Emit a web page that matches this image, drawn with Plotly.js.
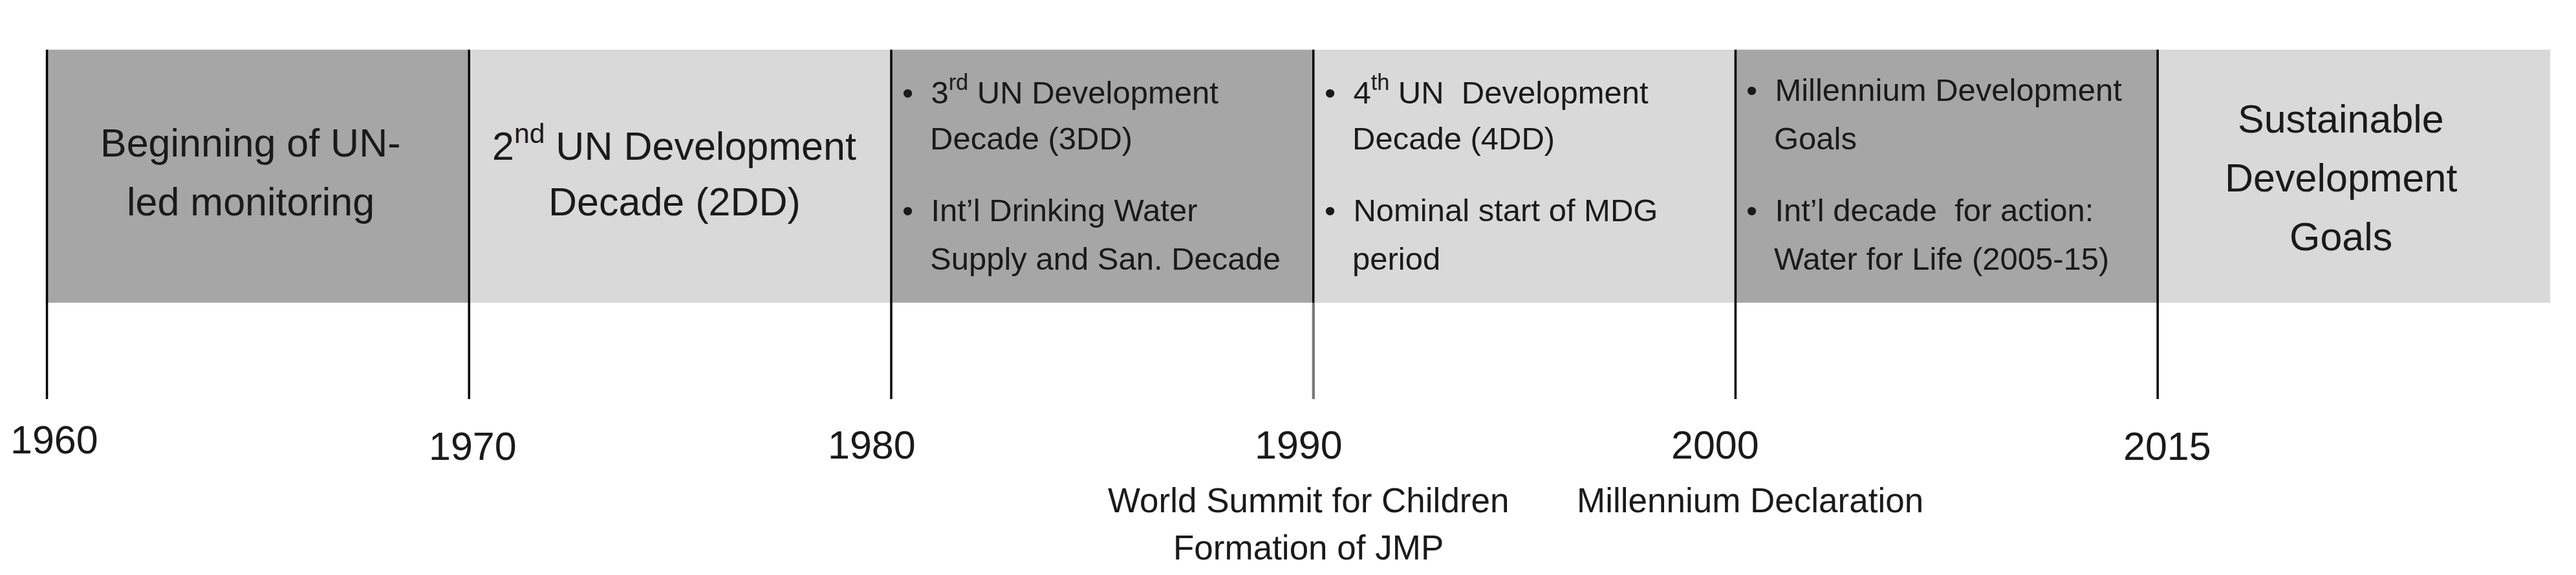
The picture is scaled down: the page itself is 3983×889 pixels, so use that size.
<!DOCTYPE html>
<html>
<head>
<meta charset="utf-8">
<script src="https://cdn.plot.ly/plotly-3.0.1.min.js"></script>
<style>html,body{margin:0;padding:0;background:#fff;}#chart{width:3983px;height:889px;}</style>
</head>
<body>
<div id="chart"></div>
<script>
// ---- data ----
const years = ['1960', '1970', '1980', '1990', '2000', '2015'];
const eraStart = [0, 1, 2, 3, 4, 5];
const eraEnd = [1, 2, 3, 4, 5, 5.93];
const eraShade = ['dark', 'light', 'dark', 'light', 'dark', 'light'];
const eraTitles = [
  ['Beginning of UN-', 'led monitoring'],
  ['2<sup>nd</sup> UN Development', 'Decade (2DD)'],
  null,
  null,
  null,
  ['Sustainable', 'Development', 'Goals']
];
const eraBullets = [
  null,
  null,
  [['3<sup>rd</sup> UN Development', 'Decade (3DD)'], ['Int’l Drinking Water', 'Supply and San. Decade']],
  [['4<sup>th</sup> UN  Development', 'Decade (4DD)'], ['Nominal start of MDG', 'period']],
  [['Millennium Development', 'Goals'], ['Int’l decade  for action:', 'Water for Life (2005-15)']],
  null
];
const eventAt = [3, 4];
const eventLines = [['World Summit for Children', 'Formation of JMP'], ['Millennium Declaration']];

// ---- style / layout ----
const W = 3983, H = 889;
const FONT = 'Liberation Sans, Arial, sans-serif';
const TXT = '#1a1a1a';
const shadeColor = {dark: '#a6a6a6', light: '#d9d9d9'};
const py = px => 1 - px / H;               // pixel row -> paper y
const lineBottom = -0.381;                  // in y units (bar spans 0..1)

const traces = [];
traces.push({
  type: 'bar', orientation: 'h',
  y: eraStart.map(() => 0.5),
  base: eraStart,
  x: eraStart.map((s, i) => eraEnd[i] - s),
  width: 1,
  marker: {color: eraShade.map(s => shadeColor[s]), line: {width: 0}},
  hoverinfo: 'skip', showlegend: false
});
const lx = [], ly = [];
eraStart.forEach(b => { lx.push(b, b, null); ly.push(lineBottom, 1, null); });
traces.push({type: 'scatter', mode: 'lines', x: lx, y: ly,
  line: {color: '#000', width: 3.5}, hoverinfo: 'skip', showlegend: false});
// the 1990 divider is grey below the bar
traces.push({type: 'scatter', mode: 'lines', x: [eraStart[3], eraStart[3]], y: [lineBottom, 0],
  line: {color: '#7a7a7a', width: 4}, hoverinfo: 'skip', showlegend: false});

const ann = [];
const A = (o) => ann.push(Object.assign({showarrow: false, xref: 'x', yref: 'paper',
  yanchor: 'middle', font: {family: FONT, color: TXT, size: 49}}, o));

// year labels
const yearShift = [11, 6, -30, -23, -31, 15];
const yearRow = [680, 690, 688, 688, 688, 690];
years.forEach((t, i) => A({x: eraStart[i], y: py(yearRow[i]), text: t, xanchor: 'center',
  xshift: yearShift[i], font: {family: FONT, color: TXT, size: 61}}));

// centred era titles
const titleRows = {2: [221, 312], 3: [184, 275, 366]};
const titleShift = [-11, -9, 0, 0, 0, -20];
eraTitles.forEach((lines, i) => {
  if (!lines) return;
  const rows = titleRows[lines.length];
  lines.forEach((t, k) => A({x: (eraStart[i] + eraEnd[i]) / 2, y: py(rows[k]), text: t,
    xanchor: 'center', xshift: titleShift[i], font: {family: FONT, color: TXT, size: 61}}));
});

// bulleted era notes (hanging indent: continuation lines line up after the bullet)
const bulletRows = [[139, 214], [325, 400]];
eraBullets.forEach((items, i) => {
  if (!items) return;
  items.forEach((lines, j) => {
    lines.forEach((t, k) => A({x: eraStart[i], y: py(bulletRows[j][k]),
      text: k === 0 ? '•  ' + t : t,
      xanchor: 'left', xshift: k === 0 ? 15 : 58}));
  });
});

// events below the axis
const eventShift = [-8, 23];
eventAt.forEach((x, i) => {
  eventLines[i].forEach((t, k) => A({x: x, y: py(773 + k * 73), text: t, xanchor: 'center',
    xshift: eventShift[i], font: {family: FONT, color: TXT, size: 53}}));
});

const layout = {
  width: W, height: H,
  margin: {l: 0, r: 0, t: 0, b: 0, pad: 0},
  paper_bgcolor: '#fff', plot_bgcolor: '#fff',
  barmode: 'overlay',
  showlegend: false,
  xaxis: {range: [-0.1112, 5.991], showgrid: false, zeroline: false, showline: false,
    showticklabels: false, ticks: '', fixedrange: true},
  yaxis: {range: [-1.076, 1.196], showgrid: false, zeroline: false, showline: false,
    showticklabels: false, ticks: '', fixedrange: true},
  annotations: ann
};
Plotly.newPlot('chart', traces, layout, {displayModeBar: false, staticPlot: true});
</script>
</body>
</html>
